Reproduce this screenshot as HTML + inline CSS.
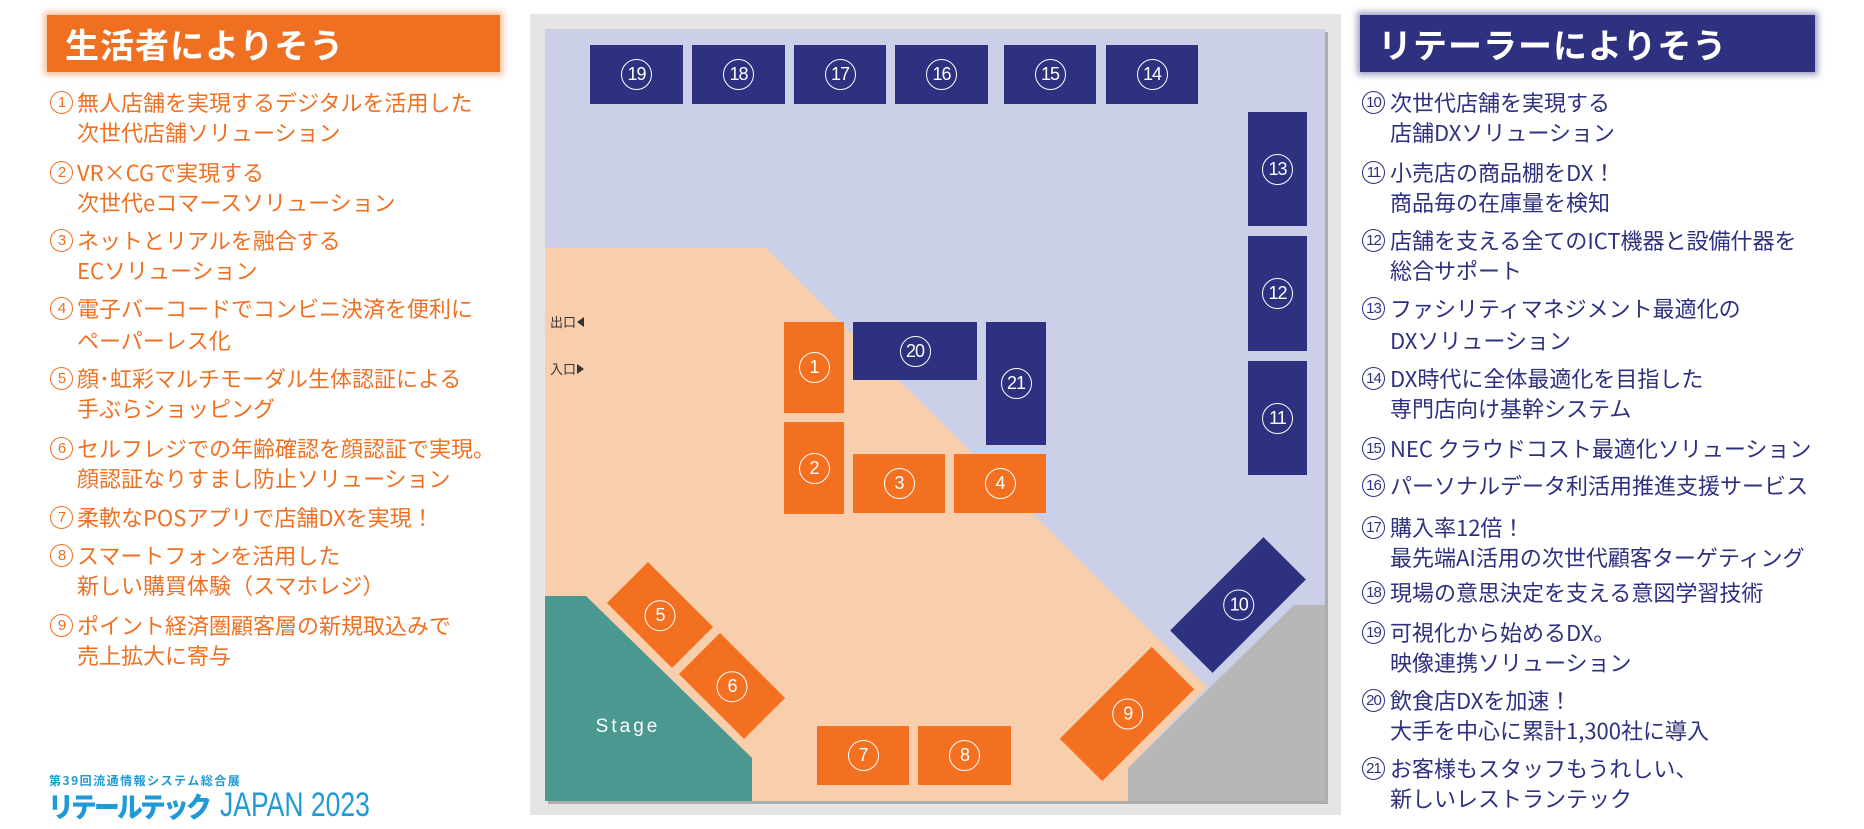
<!DOCTYPE html>
<html><head><meta charset="utf-8"><style>
*{margin:0;padding:0;box-sizing:border-box}
body{width:1864px;height:829px;background:#fff;position:relative;overflow:hidden;font-family:"Liberation Sans","Noto Sans CJK JP",sans-serif}
.hdr{position:absolute;height:57px;top:15px;color:#fff;font-weight:bold;font-size:34px;line-height:57px;font-family:"Noto Sans CJK JP",sans-serif;letter-spacing:1px}
.l{position:absolute;font-size:22px;line-height:30px;white-space:nowrap;font-family:"Noto Sans CJK JP",sans-serif}
.o{color:#f07022}.n{color:#2e3080}
.c{position:absolute;width:23px;height:23px;border:1.3px solid;border-radius:50%;font-size:15px;line-height:21px;text-align:center;font-family:"Liberation Sans",sans-serif;letter-spacing:-1px}
.b{position:absolute;display:flex;align-items:center;justify-content:center}
.nv{background:#2e3080}.or{background:#f37021}
.bc{width:31px;height:31px;border:1.5px solid #fff;border-radius:50%;color:#fff;font-size:18px;line-height:28px;text-align:center;letter-spacing:-1px;font-family:"Liberation Sans",sans-serif}
</style></head><body>

<div class="hdr" style="left:47px;width:453px;background:#f07022;padding-left:18px;box-shadow:0 0 6px 3px rgba(240,112,34,.45)">生活者によりそう</div>
<div class="hdr" style="left:1360px;width:455px;background:#2e3080;padding-left:18px;box-shadow:0 0 6px 3px rgba(46,48,128,.45)">リテーラーによりそう</div>

<!-- left list -->
<div class="o">
<div class="c" style="left:50px;top:91px">1</div><div class="l" style="left:77px;top:87px">無人店舗を実現するデジタルを活用した</div><div class="l" style="left:77px;top:117px">次世代店舗ソリューション</div>
<div class="c" style="left:50px;top:161px">2</div><div class="l" style="left:77px;top:157px">VR×CGで実現する</div><div class="l" style="left:77px;top:187px">次世代eコマースソリューション</div>
<div class="c" style="left:50px;top:229px">3</div><div class="l" style="left:77px;top:225px">ネットとリアルを融合する</div><div class="l" style="left:77px;top:255px">ECソリューション</div>
<div class="c" style="left:50px;top:297px">4</div><div class="l" style="left:77px;top:293px">電子バーコードでコンビニ決済を便利に</div><div class="l" style="left:77px;top:325px">ペーパーレス化</div>
<div class="c" style="left:50px;top:367px">5</div><div class="l" style="left:77px;top:363px">顔･虹彩マルチモーダル生体認証による</div><div class="l" style="left:77px;top:393px">手ぶらショッピング</div>
<div class="c" style="left:50px;top:437px">6</div><div class="l" style="left:77px;top:433px">セルフレジでの年齢確認を顔認証で実現。</div><div class="l" style="left:77px;top:463px">顔認証なりすまし防止ソリューション</div>
<div class="c" style="left:50px;top:506px">7</div><div class="l" style="left:77px;top:502px">柔軟なPOSアプリで店舗DXを実現！</div>
<div class="c" style="left:50px;top:544px">8</div><div class="l" style="left:77px;top:540px">スマートフォンを活用した</div><div class="l" style="left:77px;top:570px">新しい購買体験（スマホレジ）</div>
<div class="c" style="left:50px;top:614px">9</div><div class="l" style="left:77px;top:610px">ポイント経済圏顧客層の新規取込みで</div><div class="l" style="left:77px;top:640px">売上拡大に寄与</div>
</div>

<!-- logo -->
<div style="position:absolute;left:49px;top:773px;font-size:12px;font-weight:bold;color:#1f9ad6;letter-spacing:1.5px;font-family:'Noto Sans CJK JP',sans-serif;line-height:16px">第39回流通情報システム総合展</div>
<div style="position:absolute;left:48px;top:789px;font-size:28px;font-weight:900;color:#1f9ad6;line-height:34px;font-family:'Noto Sans CJK JP',sans-serif;letter-spacing:-3px;white-space:nowrap;transform:scaleX(.92);transform-origin:left top">リテールテック</div>
<div style="position:absolute;left:220px;top:788px;font-size:34px;color:#1f9ad6;line-height:34px;font-family:'Liberation Sans',sans-serif;white-space:nowrap;transform:scaleX(.78);transform-origin:left top">JAPAN 2023</div>

<!-- right list -->
<div class="n">
<div class="c" style="left:1362px;top:91px">10</div><div class="l" style="left:1390px;top:87px">次世代店舗を実現する</div><div class="l" style="left:1390px;top:117px">店舗DXソリューション</div>
<div class="c" style="left:1362px;top:161px">11</div><div class="l" style="left:1390px;top:157px">小売店の商品棚をDX！</div><div class="l" style="left:1390px;top:187px">商品毎の在庫量を検知</div>
<div class="c" style="left:1362px;top:229px">12</div><div class="l" style="left:1390px;top:225px">店舗を支える全てのICT機器と設備什器を</div><div class="l" style="left:1390px;top:255px">総合サポート</div>
<div class="c" style="left:1362px;top:297px">13</div><div class="l" style="left:1390px;top:293px">ファシリティマネジメント最適化の</div><div class="l" style="left:1390px;top:325px">DXソリューション</div>
<div class="c" style="left:1362px;top:367px">14</div><div class="l" style="left:1390px;top:363px">DX時代に全体最適化を目指した</div><div class="l" style="left:1390px;top:393px">専門店向け基幹システム</div>
<div class="c" style="left:1362px;top:437px">15</div><div class="l" style="left:1390px;top:433px">NEC クラウドコスト最適化ソリューション</div>
<div class="c" style="left:1362px;top:474px">16</div><div class="l" style="left:1390px;top:470px">パーソナルデータ利活用推進支援サービス</div>
<div class="c" style="left:1362px;top:516px">17</div><div class="l" style="left:1390px;top:512px">購入率12倍！</div><div class="l" style="left:1390px;top:542px">最先端AI活用の次世代顧客ターゲティング</div>
<div class="c" style="left:1362px;top:581px">18</div><div class="l" style="left:1390px;top:577px">現場の意思決定を支える意図学習技術</div>
<div class="c" style="left:1362px;top:621px">19</div><div class="l" style="left:1390px;top:617px">可視化から始めるDX。</div><div class="l" style="left:1390px;top:647px">映像連携ソリューション</div>
<div class="c" style="left:1362px;top:689px">20</div><div class="l" style="left:1390px;top:685px">飲食店DXを加速！</div><div class="l" style="left:1390px;top:715px">大手を中心に累計1,300社に導入</div>
<div class="c" style="left:1362px;top:757px">21</div><div class="l" style="left:1390px;top:753px">お客様もスタッフもうれしい、</div><div class="l" style="left:1390px;top:783px">新しいレストランテック</div>
</div>

<!-- floor plan -->
<div style="position:absolute;left:530px;top:14px;width:811px;height:801px;background:#e6e4e5"></div>
<svg style="position:absolute;left:0;top:0" width="1864" height="829">
<rect x="548" y="32" width="780" height="772" fill="#888" opacity=".6"/>
<rect x="545" y="29" width="780" height="772" fill="#cbcfe8"/>
<polygon points="545,248 766,248 1207,687 1128,768 1128,801 545,801" fill="#f9cead"/>
<polygon points="1128,768 1294,605 1325,605 1325,801 1128,801" fill="#b8b7b8"/>
<polygon points="545,596 586,596 752,758 752,801 545,801" fill="#4a988f"/>
<text x="628" y="732" fill="#fff" font-size="19" text-anchor="middle" letter-spacing="3" font-family="Liberation Sans,sans-serif">Stage</text>
<text x="550" y="327" fill="#333" font-size="13" font-family="Noto Sans CJK JP,sans-serif">出口</text>
<polygon points="577,322 584,317 584,327" fill="#333"/>
<text x="550" y="374" fill="#333" font-size="13" font-family="Noto Sans CJK JP,sans-serif">入口</text>
<polygon points="584,369 577,364 577,374" fill="#333"/>
</svg>

<div class="b nv" style="left:590px;top:45px;width:93px;height:59px"><div class="bc">19</div></div>
<div class="b nv" style="left:692px;top:45px;width:93px;height:59px"><div class="bc">18</div></div>
<div class="b nv" style="left:794px;top:45px;width:92px;height:59px"><div class="bc">17</div></div>
<div class="b nv" style="left:895px;top:45px;width:93px;height:59px"><div class="bc">16</div></div>
<div class="b nv" style="left:1004px;top:45px;width:92px;height:59px"><div class="bc">15</div></div>
<div class="b nv" style="left:1106px;top:45px;width:92px;height:59px"><div class="bc">14</div></div>
<div class="b nv" style="left:1248px;top:112px;width:59px;height:114px"><div class="bc">13</div></div>
<div class="b nv" style="left:1248px;top:236px;width:59px;height:115px"><div class="bc">12</div></div>
<div class="b nv" style="left:1248px;top:361px;width:59px;height:114px"><div class="bc">11</div></div>
<div class="b nv" style="left:853px;top:322px;width:124px;height:58px"><div class="bc">20</div></div>
<div class="b nv" style="left:986px;top:322px;width:60px;height:123px"><div class="bc">21</div></div>
<div class="b or" style="left:784px;top:322px;width:60px;height:91px"><div class="bc">1</div></div>
<div class="b or" style="left:784px;top:422px;width:60px;height:92px"><div class="bc">2</div></div>
<div class="b or" style="left:853px;top:454px;width:92px;height:59px"><div class="bc">3</div></div>
<div class="b or" style="left:954px;top:454px;width:92px;height:59px"><div class="bc">4</div></div>
<div class="b or" style="left:817px;top:726px;width:92px;height:59px"><div class="bc">7</div></div>
<div class="b or" style="left:918px;top:726px;width:93px;height:59px"><div class="bc">8</div></div>
<div class="b or" style="left:614px;top:586px;width:92px;height:58px;transform:rotate(45deg)"><div class="bc" style="transform:rotate(-45deg)">5</div></div>
<div class="b or" style="left:686px;top:657px;width:92px;height:58px;transform:rotate(45deg)"><div class="bc" style="transform:rotate(-45deg)">6</div></div>
<div class="b or" style="left:1062px;top:684px;width:130px;height:60px;transform:rotate(-45deg)"><div class="bc" style="transform:rotate(45deg)">9</div></div>
<div class="b nv" style="left:1172px;top:575px;width:132px;height:60px;transform:rotate(-45deg)"><div class="bc" style="transform:rotate(45deg)">10</div></div>

</body></html>
